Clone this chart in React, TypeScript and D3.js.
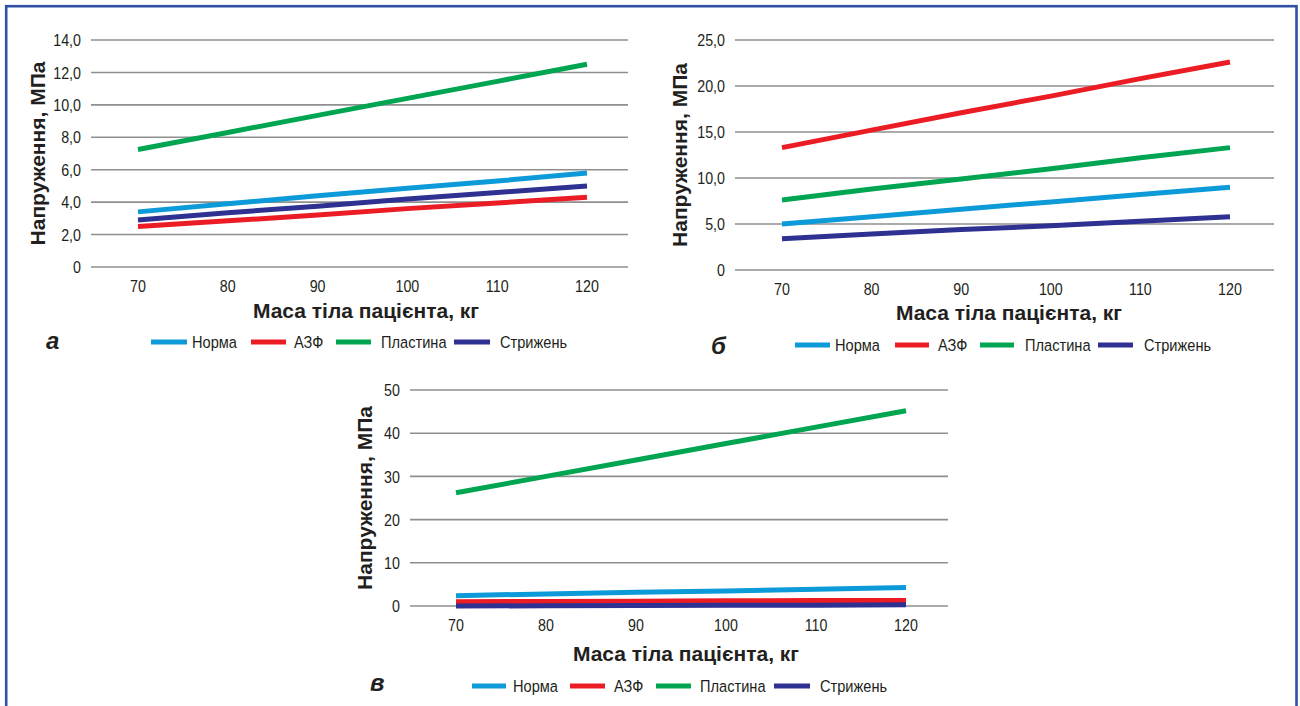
import React from "react";
import * as d3 from "d3";

// ---- data ----
const masses = [70, 80, 90, 100, 110, 120];
const seriesNames = ["Норма", "АЗФ", "Пластина", "Стрижень"];
const seriesColors = ["#0d9ad8", "#ec1c24", "#00a551", "#2e3092"];

const aNorma = [3.4, 3.9, 4.4, 4.85, 5.3, 5.8];
const aAzf = [2.5, 2.85, 3.2, 3.6, 3.95, 4.3];
const aPlastyna = [7.25, 8.3, 9.35, 10.4, 11.45, 12.5];
const aStryzhen = [2.9, 3.35, 3.75, 4.2, 4.6, 5.0];

const bNorma = [5.0, 5.8, 6.6, 7.4, 8.2, 9.0];
const bAzf = [13.3, 15.2, 17.1, 18.9, 20.8, 22.6];
const bPlastyna = [7.6, 8.8, 9.9, 11.0, 12.2, 13.3];
const bStryzhen = [3.4, 3.9, 4.4, 4.8, 5.3, 5.8];

const vNorma = [2.4, 2.8, 3.2, 3.5, 3.9, 4.3];
const vAzf = [1.0, 1.05, 1.1, 1.2, 1.25, 1.3];
const vPlastyna = [26.2, 30.0, 33.8, 37.6, 41.4, 45.2];
const vStryzhen = [0.0, 0.05, 0.1, 0.15, 0.2, 0.3];

const aTicks = [0, 2, 4, 6, 8, 10, 12, 14];
const bTicks = [0, 5, 10, 15, 20, 25];
const vTicks = [0, 10, 20, 30, 40, 50];

const yTitle = "Напруження, МПа";
const xTitle = "Маса тіла пацієнта, кг";

const FONT = "'Liberation Sans', Arial, sans-serif";
const TEXT = "#231f20";

// condensed text (narrow face imitated by horizontal scaling)
function NText(props: {
  x: number;
  y: number;
  anchor?: "start" | "middle" | "end";
  size?: number;
  sx?: number;
  children: React.ReactNode;
}) {
  const { x, y, anchor = "start", size = 17, sx = 0.84, children } = props;
  return (
    <text
      transform={`translate(${x},${y}) scale(${sx},1)`}
      dy="0.36em"
      textAnchor={anchor}
      fontFamily={FONT}
      fontSize={size}
      fill={TEXT}
    >
      {children}
    </text>
  );
}

type PanelProps = {
  label: string;
  series: number[][];
  ticks: number[];
  yMax: number;
  fmt: (v: number) => string;
  gx0: number; gx1: number;
  x70: number; x120: number;
  y0: number; yTop: number;
  yTitleX: number;
  xTitleX: number; xTitleY: number;
  legendY: number;
  legendItems: { l0: number; l1: number; t: number }[];
  labelX: number; labelY: number;
};

function Panel(p: PanelProps) {
  const x = d3.scaleLinear().domain([70, 120]).range([p.x70, p.x120]);
  const y = d3.scaleLinear().domain([0, p.yMax]).range([p.y0, p.yTop]);
  const line = d3
    .line<number>()
    .x((_, i) => x(masses[i]))
    .y((d) => y(d));
  return (
    <g>
      {p.ticks.map((t) => (
        <g key={t}>
          <line x1={p.gx0} x2={p.gx1} y1={y(t)} y2={y(t)} stroke="#8f8f8f" strokeWidth={1.6} />
          <NText x={p.gx0 - 10} y={y(t)} anchor="end">
            {p.fmt(t)}
          </NText>
        </g>
      ))}
      {masses.map((m) => (
        <NText key={m} x={x(m)} y={p.y0 + 19} anchor="middle">
          {m}
        </NText>
      ))}
      {p.series.map((s, i) => (
        <path key={i} d={line(s) || ""} fill="none" stroke={seriesColors[i]} strokeWidth={5} />
      ))}
      <text
        transform={`translate(${p.yTitleX},${(p.y0 + p.yTop) / 2}) rotate(-90)`}
        textAnchor="middle"
        dy="0.36em"
        fontFamily={FONT}
        fontWeight="bold"
        fontSize={21}
        fill={TEXT}
      >
        {yTitle}
      </text>
      <text x={p.xTitleX} y={p.xTitleY} dy="0.36em" textAnchor="middle" fontFamily={FONT} fontWeight="bold" fontSize={21} fill={TEXT}>
        {xTitle}
      </text>
      {p.legendItems.map((it, i) => (
        <g key={i}>
          <line x1={it.l0} x2={it.l1} y1={p.legendY} y2={p.legendY} stroke={seriesColors[i]} strokeWidth={5} />
          <NText x={it.t} y={p.legendY} sx={0.86}>
            {seriesNames[i]}
          </NText>
        </g>
      ))}
      <text x={p.labelX} y={p.labelY} dy="0.36em" fontFamily={FONT} fontWeight="bold" fontStyle="italic" fontSize={24} fill={TEXT}>
        {p.label}
      </text>
    </g>
  );
}

export default function App() {
  const oneDec = (v: number) => (v === 0 ? "0" : d3.format(".1f")(v).replace(".", ","));
  const intFmt = (v: number) => String(v);
  return (
    <svg width={1300} height={706} style={{ position: "absolute", left: 0, top: 0, background: "#fff" }}>
      <rect x={0} y={0} width={1300} height={706} fill="#fff" />
      <rect x={6.2} y={6.2} width={1290.3} height={800} fill="none" stroke="#3150a4" strokeWidth={2.6} />
      <Panel
        label="а"
        series={[aNorma, aAzf, aPlastyna, aStryzhen]}
        ticks={aTicks}
        yMax={14}
        fmt={oneDec}
        gx0={91} gx1={628}
        x70={138} x120={587}
        y0={267} yTop={40}
        yTitleX={37}
        xTitleX={366} xTitleY={310}
        legendY={342}
        legendItems={[
          { l0: 151, l1: 187, t: 192 },
          { l0: 251, l1: 286, t: 294 },
          { l0: 336, l1: 371, t: 381 },
          { l0: 454, l1: 490, t: 500 },
        ]}
        labelX={46} labelY={340}
      />
      <Panel
        label="б"
        series={[bNorma, bAzf, bPlastyna, bStryzhen]}
        ticks={bTicks}
        yMax={25}
        fmt={oneDec}
        gx0={735} gx1={1274}
        x70={782} x120={1230}
        y0={270} yTop={40}
        yTitleX={679}
        xTitleX={1009} xTitleY={312}
        legendY={345}
        legendItems={[
          { l0: 795, l1: 830, t: 835 },
          { l0: 895, l1: 929, t: 938 },
          { l0: 980, l1: 1014, t: 1025 },
          { l0: 1098, l1: 1133, t: 1144 },
        ]}
        labelX={711} labelY={345}
      />
      <Panel
        label="в"
        series={[vNorma, vAzf, vPlastyna, vStryzhen]}
        ticks={vTicks}
        yMax={50}
        fmt={intFmt}
        gx0={410} gx1={948}
        x70={456} x120={906}
        y0={606} yTop={390}
        yTitleX={364}
        xTitleX={686} xTitleY={653}
        legendY={686}
        legendItems={[
          { l0: 472, l1: 506, t: 513 },
          { l0: 570, l1: 605, t: 614 },
          { l0: 656, l1: 691, t: 700 },
          { l0: 774, l1: 810, t: 820 },
        ]}
        labelX={370} labelY={682}
      />
    </svg>
  );
}
